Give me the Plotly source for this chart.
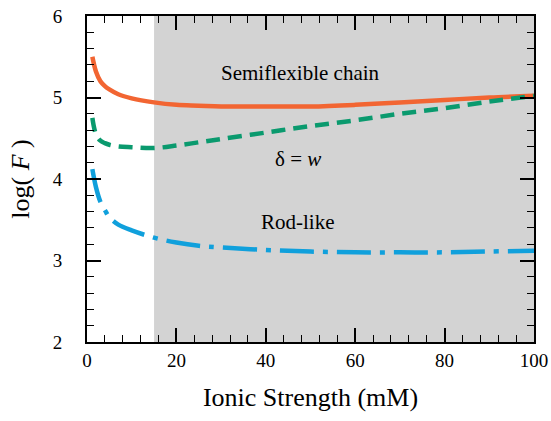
import plotly.graph_objects as go

ionic = [1.2, 2, 3, 4, 5, 7, 10, 15, 20, 25, 30, 40, 50, 60, 70, 80, 90, 100]
semiflexible = [5.50, 5.32, 5.20, 5.14, 5.10, 5.04, 4.99, 4.94, 4.91, 4.90, 4.89, 4.89, 4.89, 4.91, 4.94, 4.97, 5.00, 5.02]
delta_w = [4.75, 4.55, 4.47, 4.44, 4.42, 4.40, 4.39, 4.38, 4.41, 4.45, 4.49, 4.57, 4.65, 4.72, 4.80, 4.87, 4.95, 5.02]
rodlike = [4.12, 3.90, 3.72, 3.62, 3.53, 3.44, 3.37, 3.28, 3.22, 3.18, 3.16, 3.13, 3.11, 3.10, 3.10, 3.10, 3.11, 3.12]

shade_start, shade_end = 15, 100

labels = [
    ("Semiflexible chain", 47.7, 5.30),
    ("δ = <i>w</i>", 47.3, 4.25),
    ("Rod-like", 47.3, 3.47),
]

FONT = "Liberation Serif, Times New Roman, serif"

fig = go.Figure()
fig.add_shape(type="rect", xref="x", yref="y", x0=shade_start, x1=shade_end, y0=2, y1=6,
              fillcolor="#d3d3d3", line_width=0, layer="below")

fig.add_trace(go.Scatter(x=ionic, y=semiflexible, mode="lines", line=dict(color="#f26532", width=4.5, shape="spline")))
fig.add_trace(go.Scatter(x=ionic, y=delta_w, mode="lines", line=dict(color="#0a9a6e", width=4.5, shape="spline", dash="14px,8px")))
fig.add_trace(go.Scatter(x=ionic, y=rodlike, mode="lines", line=dict(color="#10a0dc", width=4.5, shape="spline", dash="34px,9px,5px,9px")))

for t, xx, yy in labels:
    fig.add_annotation(x=xx, y=yy, text=t, showarrow=False, font=dict(family=FONT, size=21, color="black"))

axis_common = dict(showline=True, linecolor="black", linewidth=2, mirror="allticks",
                   ticks="inside", ticklen=14, tickwidth=1.5, tickcolor="black",
                   showgrid=False, zeroline=False, automargin=False,
                   tickfont=dict(family=FONT, size=19, color="black"))

fig.update_xaxes(range=[0, 100], dtick=20, tick0=0,
                 minor=dict(dtick=4, ticks="inside", ticklen=7, tickwidth=1.2, tickcolor="black", showgrid=False),
                 title=dict(text="Ionic Strength (mM)", font=dict(family=FONT, size=26, color="black"), standoff=18),
                 **axis_common)
fig.update_yaxes(range=[2, 6], dtick=1, tick0=2, ticksuffix="\u2003",
                 minor=dict(dtick=0.2, ticks="inside", ticklen=7, tickwidth=1.2, tickcolor="black", showgrid=False),
                 title=dict(text="log( <i>F</i> )", font=dict(family=FONT, size=26, color="black"), standoff=16),
                 **axis_common)

fig.update_layout(width=551, height=421, showlegend=False,
                  margin=dict(l=87, r=17, t=16, b=79),
                  plot_bgcolor="white", paper_bgcolor="white")

fig.write_html("out.html", config={"displayModeBar": False},
               post_script="document.body.style.margin='0px';")
